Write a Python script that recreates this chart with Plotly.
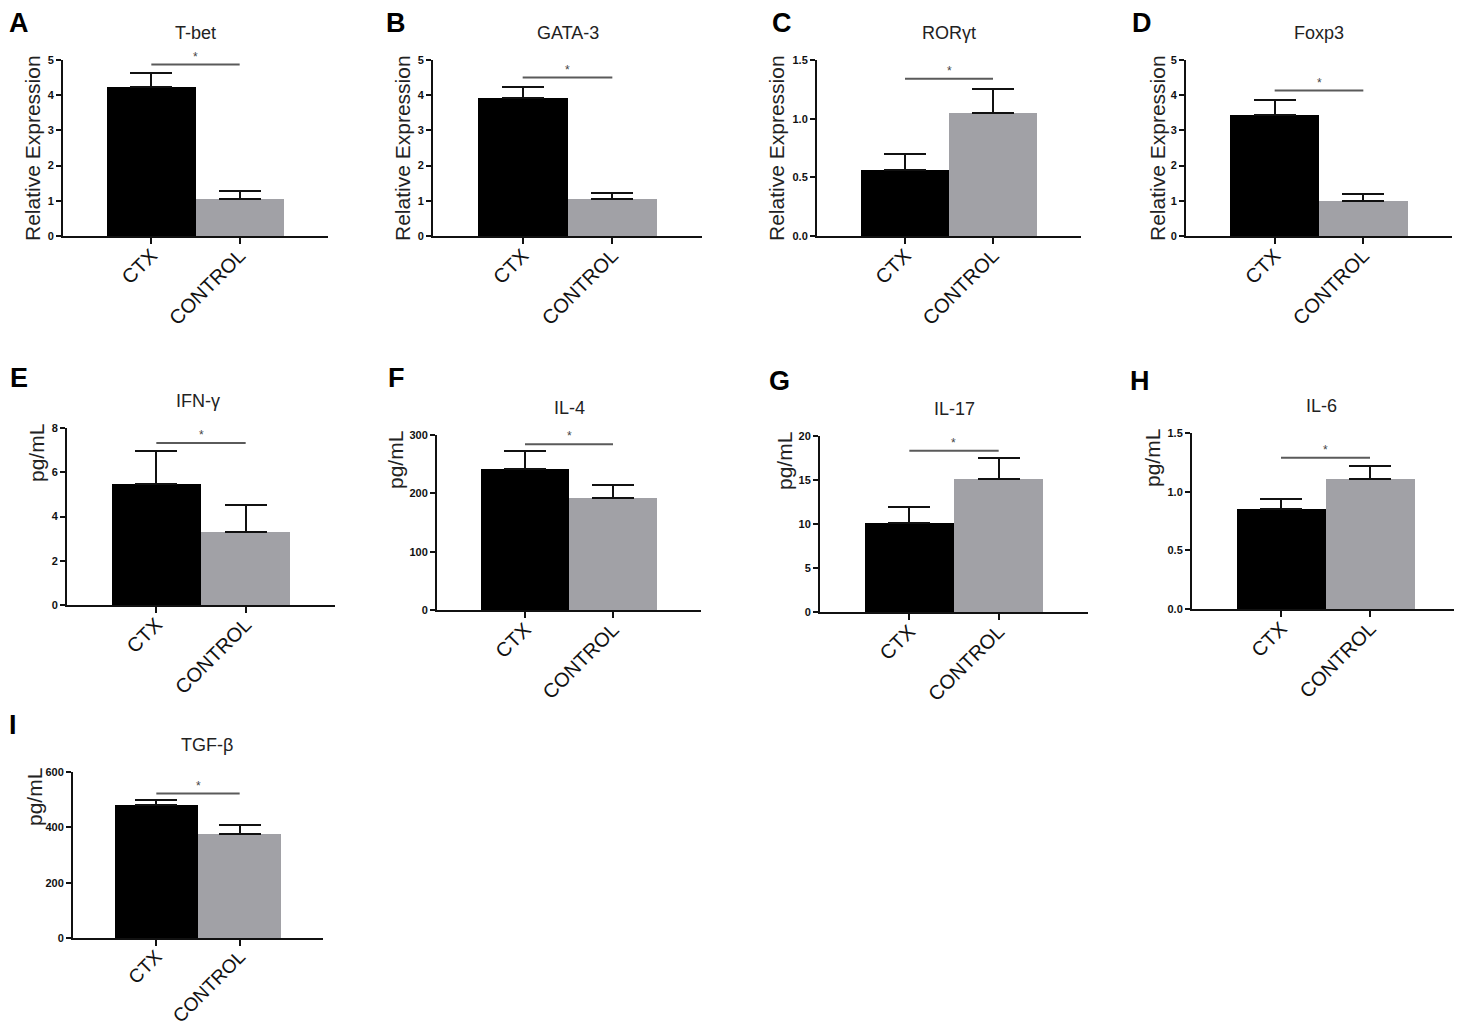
import plotly.graph_objects as go

# la pagina deja 8 px de margen en el body: la figura se corre 8 px
OFF = 8
W, H = 1462 - OFF, 1025 - OFF
FONT = "Arial, Liberation Sans, sans-serif"

# --- datos ---
letters = ["A", "B", "C", "D", "E", "F", "G", "H", "I"]
markers = ["T-bet", "GATA-3", "RORγt", "Foxp3", "IFN-γ", "IL-4", "IL-17", "IL-6", "TGF-β"]
groups = ["CTX", "CONTROL"]
units = ["Relative Expression"] * 4 + ["pg/mL"] * 5

ctx_mean = [4.23, 3.93, 0.56, 3.44, 5.47, 241.7, 10.08, 0.85, 479.6]
ctx_sem = [0.41, 0.31, 0.135, 0.42, 1.47, 31, 1.82, 0.09, 18]
ctrl_mean = [1.05, 1.05, 1.05, 1.00, 3.32, 191.5, 15.11, 1.106, 377.3]
ctrl_sem = [0.24, 0.18, 0.205, 0.20, 1.18, 22.8, 2.35, 0.111, 30]
sig_level = [4.87, 4.50, 1.34, 4.13, 7.32, 284, 18.33, 1.288, 522]

y_max = [5, 5, 1.5, 5, 8, 300, 20, 1.5, 600]
y_dtick = [1, 1, 0.5, 1, 2, 100, 5, 0.5, 200]
y_format = ["d", "d", ".1f", "d", "d", "d", "d", ".1f", "d"]

# --- layout en pixeles de la imagen: (izq, der, arriba, abajo) de cada eje ---
boxes = [
    (63, 328, 60, 236), (433, 702, 60, 236), (817, 1081, 60, 236), (1186, 1452, 60, 236),
    (67, 335, 428, 605), (437, 701, 435, 610), (820, 1088, 436, 612), (1192, 1459, 433, 609),
    (73, 323, 772, 938),
]
letter_xy = [(11, 15), (396, 15), (782, 15), (1142, 15),
             (11, 378), (396, 378), (779, 381), (1140, 381), (6, 725)]
ylab_off = [30, 30, 40, 28, 31, 42, 35, 40, 39]
title_dx = [0, 0, 0, 0, -3, 0, 0, -4, 9]
xfont = [20, 20, 20, 20, 20, 20, 20, 20, 19]


def px(x):
    return (x - OFF) / W


def py(y):
    return 1 - (y - OFF) / H


def note(x, y, text, **kw):
    d = dict(x=px(x), y=py(y), xref="paper", yref="paper", text=text,
             showarrow=False, xanchor="center", yanchor="middle")
    d.update(kw)
    return d


fig = go.Figure()
annotations = []

for i in range(len(markers)):
    n = "" if i == 0 else str(i + 1)
    xa, ya = "x" + n, "y" + n
    l, r, t, b = boxes[i]

    fig.add_trace(go.Bar(
        x=groups, y=[ctx_mean[i], ctrl_mean[i]],
        marker=dict(color=["#000000", "#a1a1a6"], line=dict(width=0)),
        width=1.0,
        error_y=dict(type="data", symmetric=False,
                     array=[ctx_sem[i], ctrl_sem[i]], arrayminus=[0, 0],
                     color="#111111", thickness=2, width=21),
        xaxis=xa, yaxis=ya, showlegend=False, hoverinfo="skip",
    ))
    # linea de significancia
    fig.add_trace(go.Scatter(
        x=groups, y=[sig_level[i], sig_level[i]], mode="lines",
        line=dict(color="#5a5a5a", width=2),
        xaxis=xa, yaxis=ya, showlegend=False, hoverinfo="skip",
    ))
    annotations.append(dict(x=0.5, y=sig_level[i], xref=xa, yref=ya, text="*",
                            showarrow=False, xanchor="center", yanchor="bottom", yshift=-1,
                            font=dict(family=FONT, size=12, color="#444")))

    fig.layout["xaxis" + n] = dict(
        domain=[px(l), px(r)], anchor=ya, type="category", range=[-1, 2],
        showline=True, linecolor="#111", linewidth=2, ticks="outside",
        ticklen=6, tickwidth=2, tickcolor="#111", tickangle=-45,
        ticklabelstandoff=-8,
        tickfont=dict(family=FONT, size=xfont[i], color="#111"), showgrid=False,
        zeroline=False, fixedrange=True, automargin=False,
    )
    fig.layout["yaxis" + n] = dict(
        domain=[py(b), py(t)], anchor=xa, range=[0, y_max[i]],
        tick0=0, dtick=y_dtick[i], tickformat=y_format[i],
        showline=True, linecolor="#111", linewidth=2, ticks="outside",
        ticklen=5, tickwidth=2, tickcolor="#111",
        tickfont=dict(family=FONT, size=11, color="#111", weight="bold"),
        showgrid=False, zeroline=False, fixedrange=True, automargin=False,
    )

    # titulo del panel
    annotations.append(note((l + r) / 2 + title_dx[i], t - 27, markers[i],
                            font=dict(family=FONT, size=18, color="#222")))
    # etiqueta eje y
    yc = (t + b) / 2 if units[i] != "pg/mL" else t + 25
    annotations.append(note(l - ylab_off[i], yc, units[i], textangle=-90,
                            font=dict(family=FONT, size=21, color="#222")))
    # letra del panel (sin salirse del borde de la figura)
    lx, ly = letter_xy[i]
    half_w = 5 if letters[i] == "I" else 11
    lx = max(lx, OFF + half_w)
    ly = max(ly, OFF + 15)
    annotations.append(note(lx, ly, "<b>" + letters[i] + "</b>",
                            font=dict(family=FONT, size=27, color="#000")))

fig.update_layout(
    width=W, height=H, margin=dict(l=0, r=0, t=0, b=0, autoexpand=False),
    paper_bgcolor="white", plot_bgcolor="white",
    annotations=annotations, bargap=0,
)

fig.write_html("out.html")
